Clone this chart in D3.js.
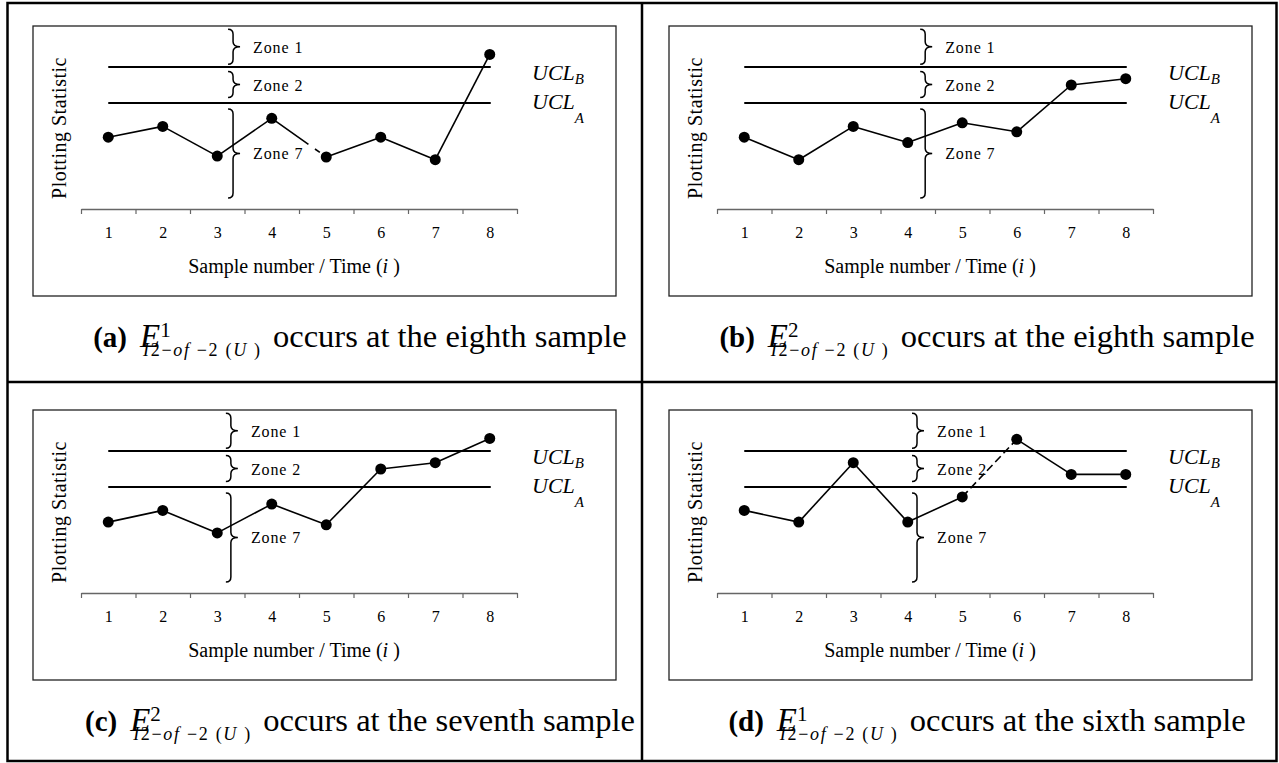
<!DOCTYPE html>
<html>
<head>
<meta charset="utf-8">
<script src="https://cdn.jsdelivr.net/npm/d3@7"></script>
<style>
  body { margin: 0; background: #fff; }
  svg text { font-family: 'Liberation Serif', 'Times New Roman', serif; fill: #000; }
</style>
</head>
<body>
<svg id="chart" width="1279" height="763"></svg>
<script>
// x axis: sample number
let samples = [1, 2, 3, 4, 5, 6, 7, 8]

// plotting statistic, one list per panel
let seriesA = [4.1, 4.7, 3.05, 5.15, 3.0, 4.1, 2.85, 8.7]
let seriesB = [4.1, 2.85, 4.7, 3.8, 4.9, 4.4, 7.0, 7.35]
let seriesC = [4.05, 4.7, 3.45, 5.05, 3.9, 7.0, 7.35, 8.7]
let seriesD = [4.7, 4.05, 7.35, 4.05, 5.45, 8.65, 6.7, 6.7]

// control limits and zones
let uclA = 6
let uclB = 8
let zoneNames = ['Zone 1', 'Zone 2', 'Zone 7']
let zoneRanges = [[8.15, 10.1], [6.3, 7.75], [0.72, 5.67]]

// captions
let panelLetters = ['a', 'b', 'c', 'd']
let eventIndex = ['1', '2', '2', '1']
let sampleWords = ['eighth', 'eighth', 'seventh', 'sixth']

// panel placement (col, row), where the zone braces sit, broken segments
let panels = [
  { values: seriesA, col: 0, row: 0, braceAt: 3.29, gap: { seg: 3, dash: '45,8,6,20' } },
  { values: seriesB, col: 1, row: 0, braceAt: 4.32, gap: null },
  { values: seriesC, col: 0, row: 1, braceAt: 3.25, gap: null },
  { values: seriesD, col: 1, row: 1, braceAt: 4.17, gap: { seg: 4, dash: '8,4' } }
]
panels.forEach((p, i) => {
  p.letter = panelLetters[i]
  p.sup = eventIndex[i]
  p.word = sampleWords[i]
})

let colStep = 636
let rowStep = 384
let captionCenters = [360, 987]
let captionBase = 347

let svg = d3.select('#chart')

// scales shared by every panel (panel-local coordinates)
let xScale = d3.scaleLinear().domain([0.5, 8.5]).range([81, 517])
let yScale = d3.scaleLinear().domain([0, 10]).range([211, 31])
let axisY = 209

let line = d3
  .line()
  .x(d => xScale(d[0]))
  .y(d => yScale(d[1]))

function bracePath(x, y0, y1) {
  let ym = (y0 + y1) / 2
  let r = 5
  return `M${x - r},${y0} Q${x},${y0} ${x},${y0 + r} L${x},${ym - r} ` +
    `Q${x},${ym} ${x + 7},${ym} Q${x},${ym} ${x},${ym + r} ` +
    `L${x},${y1 - r} Q${x},${y1} ${x - r},${y1}`
}

// outer table
svg.append('rect')
  .attr('x', 7.5).attr('y', 3)
  .attr('width', 1269).attr('height', 758)
  .attr('fill', 'none').attr('stroke', '#000').attr('stroke-width', 2.5)
svg.append('line')
  .attr('x1', 642).attr('x2', 642).attr('y1', 3).attr('y2', 761)
  .attr('stroke', '#000').attr('stroke-width', 2.5)
svg.append('line')
  .attr('x1', 7.5).attr('x2', 1276.5).attr('y1', 382).attr('y2', 382)
  .attr('stroke', '#000').attr('stroke-width', 2.5)

panels.forEach(p => {
  let g = svg.append('g')
    .attr('transform', `translate(${p.col * colStep},${p.row * rowStep})`)

  // inner frame
  g.append('rect')
    .attr('x', 33).attr('y', 26)
    .attr('width', 583).attr('height', 270)
    .attr('fill', 'none').attr('stroke', '#222').attr('stroke-width', 1.3)

  // control limit lines
  ;[uclB, uclA].forEach(v => {
    g.append('line')
      .attr('x1', xScale(samples[0])).attr('x2', xScale(samples[samples.length - 1]) + 1)
      .attr('y1', yScale(v)).attr('y2', yScale(v))
      .attr('stroke', '#000').attr('stroke-width', 2)
  })

  // UCL labels
  let lb = g.append('text')
    .attr('x', 532).attr('y', yScale(uclB) + 13)
    .attr('font-size', 22).attr('font-style', 'italic')
  lb.append('tspan').text('UCL')
  lb.append('tspan').attr('font-size', 15).attr('dy', 4).text('B')

  let la = g.append('text')
    .attr('x', 532).attr('y', yScale(uclA) + 6)
    .attr('font-size', 22).attr('font-style', 'italic')
  la.append('tspan').text('UCL')
  la.append('tspan').attr('font-size', 15).attr('dy', 14).text('A')

  // zone braces and names
  let bx = xScale(p.braceAt)
  zoneRanges.forEach((z, i) => {
    let y0 = yScale(z[1])
    let y1 = yScale(z[0])
    g.append('path')
      .attr('d', bracePath(bx, y0, y1))
      .attr('fill', 'none').attr('stroke', '#000').attr('stroke-width', 1.5)
    g.append('text')
      .attr('x', bx + 20)
      .attr('y', (y0 + y1) / 2 + 6)
      .attr('font-size', 16)
      .attr('letter-spacing', 0.9)
      .text(zoneNames[i])
  })

  // x axis: tick marks at sample boundaries, labels at sample centres
  let ticks = g.append('g')
    .attr('class', 'axis x-axis')
    .attr('transform', `translate(0,${axisY})`)
    .call(d3.axisBottom(xScale)
      .tickValues(d3.range(0.5, 9, 1))
      .tickFormat('')
      .tickSizeInner(5)
      .tickSizeOuter(0))
  ticks.select('.domain').attr('stroke', '#666').attr('stroke-width', 1.6)
  ticks.selectAll('.tick line').attr('stroke', '#666').attr('stroke-width', 1.2)

  let labels = g.append('g')
    .attr('transform', `translate(0,${axisY})`)
    .call(d3.axisBottom(xScale)
      .tickValues(samples)
      .tickFormat(d3.format('d'))
      .tickSize(0)
      .tickPadding(18))
  labels.select('.domain').remove()
  labels.selectAll('text')
    .attr('font-size', 16)
    .attr('font-family', "'Liberation Serif', 'Times New Roman', serif")
    .attr('fill', '#000')

  // axis titles
  let xt = g.append('text')
    .attr('x', 294).attr('y', 273)
    .attr('text-anchor', 'middle')
    .attr('font-size', 20)
  xt.append('tspan').text('Sample number / Time (')
  xt.append('tspan').attr('font-style', 'italic').text('i')
  xt.append('tspan').text(' )')

  g.append('text')
    .attr('transform', 'translate(66,128) rotate(-90)')
    .attr('text-anchor', 'middle')
    .attr('font-size', 20)
    .attr('letter-spacing', 0.5)
    .text('Plotting Statistic')

  // series segments
  let pts = p.values.map((v, i) => [samples[i], v])
  d3.pairs(pts).forEach((pair, i) => {
    g.append('path')
      .datum(pair)
      .attr('d', line)
      .attr('fill', 'none')
      .attr('stroke', '#000')
      .attr('stroke-width', 1.6)
      .attr('stroke-dasharray', p.gap && p.gap.seg === i ? p.gap.dash : null)
  })

  g.selectAll('.pt')
    .data(pts)
    .enter()
    .append('circle')
    .attr('class', 'pt')
    .attr('cx', d => xScale(d[0]))
    .attr('cy', d => yScale(d[1]))
    .attr('r', 5.5)
    .attr('fill', '#000')

  // caption: (x) E^k_{I2-of-2(U)} occurs at the ... sample
  let cap = svg.append('g')
  let t1 = cap.append('text')
    .attr('x', 0).attr('y', 0)
    .attr('font-size', 29).attr('font-weight', 'bold')
    .text(`(${p.letter})`)
  let ex = t1.node().getComputedTextLength() + 13
  let e = cap.append('text')
    .attr('x', ex).attr('y', 0)
    .attr('font-size', 33).attr('font-style', 'italic')
    .text('E')
  let ew = e.node().getComputedTextLength()
  cap.append('text')
    .attr('x', ex + ew).attr('y', -10)
    .attr('font-size', 21)
    .text(p.sup)
  let sub = cap.append('text')
    .attr('x', ex + 3).attr('y', 9)
    .attr('font-size', 18)
    .attr('textLength', 117)
    .attr('lengthAdjust', 'spacing')
  sub.append('tspan').attr('font-style', 'italic').text('I')
  sub.append('tspan').text('2\u2212')
  sub.append('tspan').attr('font-style', 'italic').text('of')
  sub.append('tspan').text(' \u22122 (')
  sub.append('tspan').attr('font-style', 'italic').text('U')
  sub.append('tspan').text(' )')
  let subEnd = ex + 3 + 117
  cap.append('text')
    .attr('x', subEnd + 13).attr('y', 0)
    .attr('font-size', 32.5)
    .text(`occurs at the ${p.word} sample`)
  let bb = cap.node().getBBox()
  let cx = captionCenters[p.col]
  cap.attr('transform',
    `translate(${cx - bb.x - bb.width / 2},${captionBase + p.row * rowStep})`)
})
</script>
</body>
</html>
